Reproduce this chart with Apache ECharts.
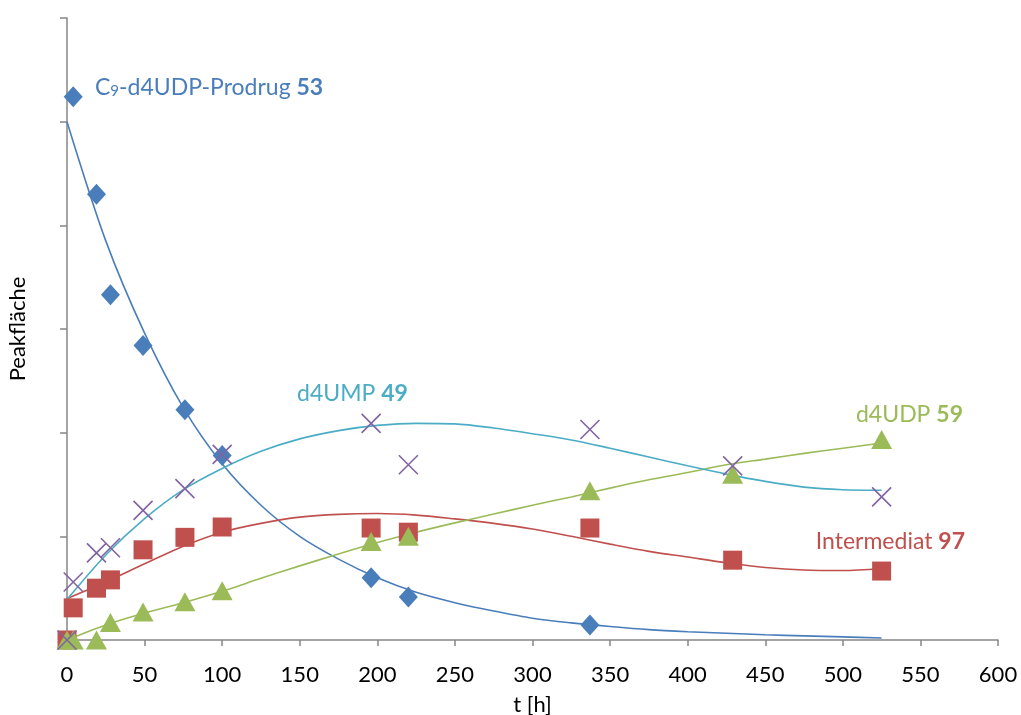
<!DOCTYPE html>
<html>
<head>
<meta charset="utf-8">
<script src="https://cdn.jsdelivr.net/npm/echarts@6/dist/echarts.min.js"></script>
<style>
  html, body { margin: 0; padding: 0; background: #fff; }
  #chart { width: 1021px; height: 715px; }
</style>
</head>
<body>
<div id="chart"></div>
<script>
// Messzeiten [h]
const zeiten = [0, 4, 19, 28, 49, 76, 100, 196, 220, 337, 429, 525];

// Messpunkte (Peakfläche, willkürliche Einheiten)
const prodrugZeiten = [4, 19, 28, 49, 76, 100, 196, 220, 337];
const prodrugWerte  = [5.24, 4.30, 3.33, 2.84, 2.22, 1.78, 0.60, 0.415, 0.145];
const intermediatWerte = [0, 0.31, 0.50, 0.58, 0.87, 0.99, 1.09, 1.08, 1.04, 1.08, 0.77, 0.665];
const d4umpWerte = [0, 0.56, 0.84, 0.89, 1.25, 1.46, 1.79, 2.09, 1.69, 2.03, 1.68, 1.38];
const d4udpWerte = [0, 0, 0, 0.17, 0.27, 0.37, 0.475, 0.95, 1.0, 1.44, 1.60, 1.935];

// Trendlinien (alle 25 h)
const trendZeiten = [0, 25, 50, 75, 100, 125, 150, 175, 200, 225, 250, 275, 300, 325, 350, 375, 400, 425, 450, 475, 500, 525];
const prodrugTrend     = [5.0, 3.85, 2.96, 2.24, 1.70, 1.30, 1.00, 0.78, 0.60, 0.46, 0.36, 0.28, 0.21, 0.165, 0.13, 0.10, 0.08, 0.065, 0.05, 0.04, 0.03, 0.02];
const intermediatTrend = [0.40, 0.56, 0.735, 0.905, 1.04, 1.125, 1.185, 1.212, 1.22, 1.205, 1.168, 1.125, 1.07, 1.00, 0.925, 0.855, 0.80, 0.745, 0.70, 0.675, 0.67, 0.69];
const d4umpTrend       = [0.39, 0.82, 1.17, 1.45, 1.655, 1.82, 1.94, 2.02, 2.07, 2.09, 2.085, 2.045, 1.99, 1.93, 1.85, 1.765, 1.68, 1.60, 1.53, 1.475, 1.45, 1.445];
const d4udpTrend       = [0, 0.145, 0.26, 0.36, 0.47, 0.595, 0.715, 0.83, 0.94, 1.04, 1.13, 1.215, 1.30, 1.38, 1.465, 1.545, 1.615, 1.69, 1.745, 1.80, 1.85, 1.90];

// Achsen
const xTicks = [0, 50, 100, 150, 200, 250, 300, 350, 400, 450, 500, 550, 600];
const yMax = 6;

const farben = {
    prodrug: '#4a7ebb',
    intermediat: '#c0504d',
    d4udp: '#9bbb59',
    kreuz: '#8064a2',
    d4ump: '#4bacc6'
};
const schrift = 'Lato, "Open Sans", sans-serif';

function paare(xs, ys) {
    return xs.map((x, i) => [x, ys[i]]);
}

function trendlinie(name, werte, farbe) {
    return {
        name: name,
        type: 'line',
        data: paare(trendZeiten, werte),
        smooth: 0.3,
        showSymbol: false,
        symbol: 'none',
        silent: true,
        lineStyle: { color: farbe, width: 1.6 },
        z: 2
    };
}

// Beschriftung mit fett gedruckter Verbindungsnummer
function beschriftung(pos, name, nummer, farbe) {
    return Object.assign({
        type: 'text',
        z: 10,
        style: {
            text: '{n|' + name + ' }{b|' + nummer + '}',
            rich: {
                n: { fontFamily: schrift, fontSize: 23, fill: farbe },
                b: { fontFamily: schrift, fontSize: 23, fontWeight: 'bold', fill: farbe }
            }
        }
    }, pos);
}

const chart = echarts.init(document.getElementById('chart'));

chart.setOption({
    animation: false,
    grid: { left: 67, right: 23, top: 18, bottom: 75, containLabel: false, outerBoundsMode: 'none' },
    xAxis: {
        type: 'value',
        min: xTicks[0],
        max: xTicks[xTicks.length - 1],
        interval: 50,
        name: 't [h]',
        nameLocation: 'middle',
        nameGap: 54,
        nameTextStyle: { fontFamily: schrift, fontSize: 22, color: '#000' },
        axisLine: { show: true, lineStyle: { color: '#868686', width: 1.5 } },
        axisTick: { show: true, inside: false, length: 6, lineStyle: { color: '#868686', width: 1.5 } },
        axisLabel: { fontFamily: schrift, fontSize: 22, color: '#000', margin: 24 },
        splitLine: { show: false }
    },
    yAxis: {
        type: 'value',
        min: 0,
        max: yMax,
        interval: 1,
        name: 'Peakfläche',
        nameLocation: 'middle',
        nameGap: 38,
        nameRotate: 90,
        nameTextStyle: { fontFamily: schrift, fontSize: 22, color: '#000' },
        axisLine: { show: true, onZero: false, lineStyle: { color: '#868686', width: 1.5 } },
        axisTick: { show: true, inside: false, length: 7, lineStyle: { color: '#868686', width: 1.5 } },
        axisLabel: { show: false },
        splitLine: { show: false }
    },
    series: [
        trendlinie('Prodrug Trend', prodrugTrend, farben.prodrug),
        trendlinie('Intermediat Trend', intermediatTrend, farben.intermediat),
        trendlinie('d4UDP Trend', d4udpTrend, farben.d4udp),
        trendlinie('d4UMP Trend', d4umpTrend, farben.d4ump),
        {
            name: 'C9-d4UDP-Prodrug 53',
            type: 'scatter',
            data: paare(prodrugZeiten, prodrugWerte),
            symbol: 'diamond',
            symbolSize: [19, 21],
            itemStyle: { color: farben.prodrug, opacity: 1 },
            z: 3
        },
        {
            name: 'Intermediat 97',
            type: 'scatter',
            data: paare(zeiten, intermediatWerte),
            symbol: 'rect',
            symbolSize: 19,
            itemStyle: { color: farben.intermediat, opacity: 1 },
            z: 3
        },
        {
            name: 'd4UDP 59',
            type: 'scatter',
            data: paare(zeiten, d4udpWerte),
            symbol: 'triangle',
            symbolSize: [21, 19],
            itemStyle: { color: farben.d4udp, opacity: 1 },
            z: 3
        },
        {
            name: 'd4UMP 49',
            type: 'scatter',
            data: paare(zeiten, d4umpWerte),
            symbol: 'path://M0,0L10,10M10,0L0,10',
            symbolSize: 19,
            itemStyle: { color: 'none', borderColor: farben.kreuz, borderWidth: 1.6, opacity: 1 },
            z: 4
        }
    ],
    graphic: [
        {
            type: 'text', left: 95, top: 76, z: 10,
            style: {
                text: '{n|C}{s|9}{n|-d4UDP-Prodrug }{b|53}',
                rich: {
                    n: { fontFamily: schrift, fontSize: 23, fill: farben.prodrug },
                    s: { fontFamily: schrift, fontSize: 15, fill: farben.prodrug, verticalAlign: 'bottom' },
                    b: { fontFamily: schrift, fontSize: 23, fontWeight: 'bold', fill: farben.prodrug }
                }
            }
        },
        beschriftung({ left: 297, top: 382 }, 'd4UMP', '49', farben.d4ump),
        beschriftung({ right: 58, top: 403 }, 'd4UDP', '59', farben.d4udp),
        beschriftung({ right: 56, top: 530 }, 'Intermediat', '97', farben.intermediat)
    ]
});

window.addEventListener('resize', function() {
    chart.resize();
});
</script>
</body>
</html>
